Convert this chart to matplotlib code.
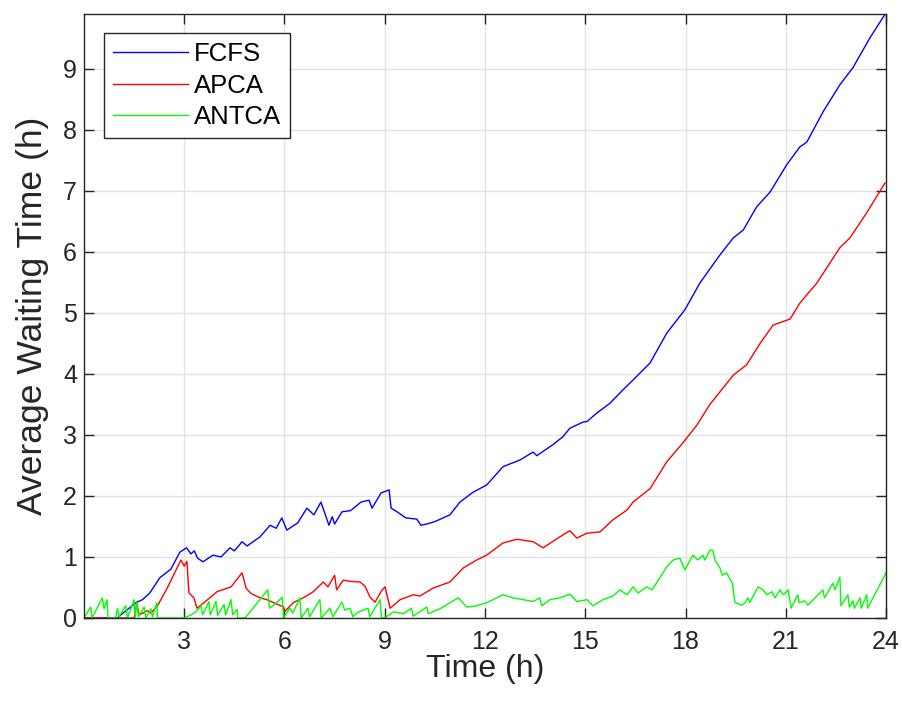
import matplotlib
matplotlib.use("Agg")
import matplotlib.pyplot as plt

plt.rcParams['font.family'] = ['Liberation Sans', 'DejaVu Sans']

# FCFS: (time h, avg waiting h)
fcfs_t = [0, 0.5, 1.0, 1.17, 1.58, 1.75, 1.97, 2.27, 2.6, 2.87, 3.07, 3.2, 3.3, 3.4, 3.56,
          3.86, 4.1, 4.37, 4.5, 4.73, 4.88, 5.27, 5.57, 5.75, 5.92, 6.07, 6.4, 6.67, 6.88,
          7.09, 7.33, 7.43, 7.5, 7.72, 7.98, 8.29, 8.53, 8.62, 8.89, 9.04, 9.13, 9.19, 9.37,
          9.63, 9.96, 10.08, 10.26, 10.5, 10.95, 11.25, 11.64, 12.05, 12.54, 13.05, 13.44,
          13.55, 14.03, 14.33, 14.54, 14.93, 15.05, 15.35, 15.74, 16.13, 16.43, 16.94, 17.44,
          17.98, 18.43, 19.03, 19.43, 19.73, 20.13, 20.53, 21.03, 21.42, 21.63, 22.12, 22.62,
          23.01, 23.52, 24.0]
fcfs_v = [0, 0, 0, 0.08, 0.26, 0.3, 0.41, 0.66, 0.8, 1.08, 1.15, 1.05, 1.1, 0.98, 0.92,
          1.03, 1.0, 1.15, 1.1, 1.25, 1.18, 1.33, 1.52, 1.47, 1.64, 1.44, 1.56, 1.80, 1.69,
          1.90, 1.52, 1.66, 1.54, 1.74, 1.76, 1.90, 1.93, 1.80, 2.05, 2.08, 2.10, 1.80, 1.74,
          1.64, 1.62, 1.52, 1.54, 1.58, 1.69, 1.90, 2.06, 2.18, 2.48, 2.59, 2.72,
          2.66, 2.84, 2.97, 3.11, 3.21, 3.22, 3.36, 3.52, 3.74, 3.90, 4.18, 4.67,
          5.05, 5.49, 5.95, 6.23, 6.36, 6.74, 6.98, 7.43, 7.72, 7.80, 8.30, 8.74,
          9.02, 9.51, 9.92]

apca_t = [0, 1.5, 1.58, 1.65, 1.9, 2.0, 2.2, 2.5, 2.9, 3.0, 3.08, 3.14, 3.29, 3.38, 3.59,
          3.98, 4.4, 4.73, 4.85, 5.0, 5.27, 5.47, 5.97, 6.0, 6.26, 6.56, 6.86, 7.16, 7.3,
          7.5, 7.56, 7.76, 7.96, 8.26, 8.41, 8.56, 8.71, 8.92, 9.01, 9.16, 9.46, 9.85, 10.05,
          10.45, 10.95, 11.35, 11.75, 12.05, 12.54, 12.95, 13.44, 13.74, 14.24, 14.54, 14.75,
          15.05, 15.44, 15.83, 16.25, 16.43, 16.94, 17.44, 17.92, 18.34, 18.73, 19.43, 19.83,
          20.23, 20.62, 21.13, 21.42, 21.93, 22.62, 22.92, 23.42, 23.97]
apca_v = [0, 0, 0.25, 0.05, 0.12, 0.08, 0.2, 0.5, 0.95, 0.85, 0.93, 0.41, 0.33, 0.16, 0.25,
          0.43, 0.51, 0.74, 0.49, 0.40, 0.33, 0.30, 0.18, 0.10, 0.25, 0.33, 0.43, 0.59, 0.51,
          0.70, 0.46, 0.62, 0.60, 0.59, 0.52, 0.34, 0.26, 0.46, 0.51, 0.16, 0.30, 0.38, 0.36,
          0.49, 0.59, 0.82, 0.95, 1.03, 1.23, 1.29, 1.25, 1.15, 1.33, 1.43, 1.31,
          1.39, 1.41, 1.61, 1.77, 1.90, 2.12, 2.56, 2.87, 3.16, 3.50, 3.98, 4.15,
          4.50, 4.80, 4.90, 5.16, 5.49, 6.07, 6.23, 6.64, 7.13]

antca_t = [0, 0.2, 0.24, 0.55, 0.6, 0.69, 0.72, 0.95, 1.0, 1.05, 1.25, 1.3, 1.5, 1.53, 1.58,
           1.63, 1.8, 1.85, 2.0, 2.05, 2.18, 2.2, 3.0, 3.2, 3.35, 3.5, 3.55, 3.74, 3.78, 3.95,
           4.0, 4.19, 4.24, 4.4, 4.45, 4.58, 4.6, 4.82, 5.5, 5.55, 5.7, 5.93, 5.97, 6.16, 6.25,
           6.46, 6.5, 6.7, 6.75, 7.06, 7.1, 7.36, 7.45, 7.72, 7.8, 7.96, 8.05, 8.16, 8.35, 8.5,
           8.55, 8.86, 8.9, 9.0, 9.26, 9.56, 9.8, 9.85, 10.26, 10.3, 10.65, 10.95, 11.2, 11.45,
           11.75, 12.05, 12.24, 12.54, 12.84, 13.14, 13.44, 13.64, 13.7, 13.94, 14.24, 14.54,
           14.75, 15.05, 15.23, 15.53, 15.83, 16.04, 16.25, 16.43, 16.58, 16.84, 17.0, 17.44,
           17.63, 17.83, 17.98, 18.22, 18.37, 18.52, 18.58, 18.73, 18.82, 18.88, 19.03, 19.1,
           19.23, 19.4, 19.48, 19.69, 19.78, 19.87, 19.92, 20.17, 20.32, 20.43, 20.58, 20.68,
           20.83, 20.93, 21.07, 21.16, 21.36, 21.4, 21.57, 21.66, 22.11, 22.16, 22.41, 22.47,
           22.62, 22.65, 22.86, 22.9, 23.01, 23.05, 23.22, 23.26, 23.42, 23.45, 24.0]
antca_v = [0, 0.18, 0, 0.33, 0.15, 0.3, 0, 0, 0.16, 0.02, 0.2, 0, 0.3, 0, 0.25,
           0.02, 0.18, 0, 0.15, 0.02, 0.25, 0, 0, 0.05, 0.1, 0.2, 0.05, 0.27, 0.05, 0.27,
           0.04, 0.22, 0.05, 0.3, 0.05, 0.14, 0, 0, 0.46, 0.16, 0.22, 0.34, 0, 0.16, 0.08,
           0.33, 0, 0.16, 0.02, 0.3, 0, 0.16, 0.02, 0.26, 0.13, 0.16, 0.02, 0.08, 0.13, 0.16,
           0.02, 0.3, 0, 0, 0.1, 0.07, 0.16, 0.03, 0.18, 0.07, 0.15, 0.25, 0.33, 0.18,
           0.2, 0.25, 0.3, 0.38, 0.33, 0.3, 0.27, 0.33, 0.2, 0.3, 0.33, 0.39,
           0.27, 0.3, 0.2, 0.3, 0.36, 0.46, 0.38, 0.51, 0.41, 0.51, 0.46, 0.84,
           0.95, 0.98, 0.79, 1.03, 0.95, 1.03, 0.95, 1.11, 1.11, 0.95, 0.82, 0.7,
           0.74, 0.57, 0.25, 0.21, 0.25, 0.33, 0.25, 0.51, 0.46, 0.38, 0.43, 0.33,
           0.46, 0.38, 0.46, 0.16, 0.38, 0.25, 0.28, 0.21, 0.46, 0.33, 0.57, 0.46,
           0.67, 0.2, 0.38, 0.18, 0.28, 0.16, 0.33, 0.16, 0.38, 0.16, 0.74]

xticks = [3, 6, 9, 12, 15, 18, 21, 24]
yticks = [0, 1, 2, 3, 4, 5, 6, 7, 8, 9]

fig = plt.figure(figsize=(9.02, 7.04), dpi=100)
ax = fig.add_axes([0.0931, 0.1222, 0.8892, 0.858])

ax.plot(fcfs_t, fcfs_v, color=(0, 0, 1), lw=1.0, label='FCFS')
ax.plot(apca_t, apca_v, color=(1, 0, 0), lw=1.0, label='APCA')
ax.plot(antca_t, antca_v, color=(0, 1, 0), lw=1.0, label='ANTCA')

ax.set_xlim(0, 24)
ax.set_ylim(0, 9.9)
ax.set_xticks(xticks)
ax.set_yticks(yticks)
ax.grid(True, color='#e2e2e2', lw=1)
ax.set_axisbelow(True)
for s in ax.spines.values():
    s.set_color('#262626')
    s.set_linewidth(1)
ax.tick_params(direction='in', top=True, right=True, length=7, width=1,
               color='#262626', labelcolor='#262626', labelsize=18)
ax.tick_params(axis='x', pad=9)
ax.tick_params(axis='y', pad=5)

ax.set_xlabel('Time (h)', fontsize=23, color='#262626', labelpad=0)
ax.set_ylabel('Average Waiting Time (h)', fontsize=25.5, color='#262626', labelpad=10)

leg = ax.legend(loc='upper left', bbox_to_anchor=(0.025, 0.9685), borderaxespad=0,
                fancybox=False, edgecolor='#262626', framealpha=1, fontsize=18.5,
                handlelength=2.9, handletextpad=0.25, labelspacing=0.3, borderpad=0.35)
leg.get_frame().set_linewidth(1)

fig.savefig('out.png', dpi=100)
